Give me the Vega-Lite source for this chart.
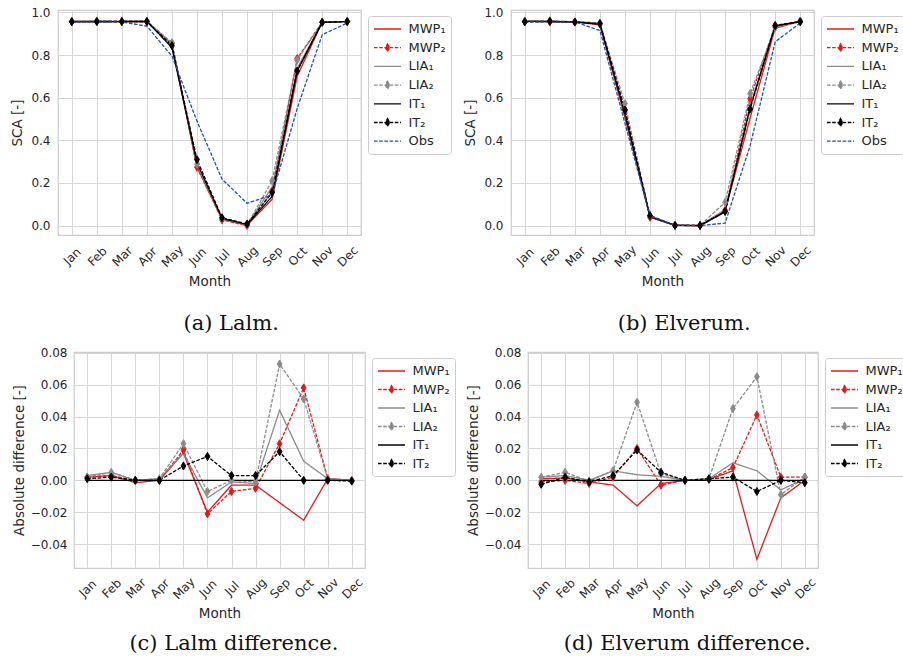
{
  "$schema": "https://vega.github.io/schema/vega-lite/v6.json",
  "background": "white",
  "padding": {"left": 10, "top": 5, "right": 0, "bottom": 0},
  "config": {
    "view": {"stroke": "#cccccc", "strokeWidth": 1.25},
    "axis": {
      "domain": false,
      "ticks": false,
      "tickSize": 0,
      "grid": true,
      "gridColor": "#d6d6d6",
      "gridWidth": 1,
      "labelFont": "DejaVu Sans",
      "labelFontSize": 12,
      "labelColor": "#262626",
      "titleFont": "DejaVu Sans",
      "titleFontSize": 13.5,
      "titleFontWeight": "normal",
      "titleColor": "#262626"
    },
    "legend": {
      "labelFont": "DejaVu Sans",
      "labelFontSize": 13,
      "labelColor": "#262626"
    }
  },
  "resolve": {"scale": {"color": "independent", "strokeDash": "independent", "fill": "independent", "stroke": "independent"}, "legend": {"color": "independent"}},
  "datasets": {
    "lalm": [
      {"m":"Jan","s":"MWP₁","v":0.957},{"m":"Feb","s":"MWP₁","v":0.958},{"m":"Mar","s":"MWP₁","v":0.956},{"m":"Apr","s":"MWP₁","v":0.957},{"m":"May","s":"MWP₁","v":0.852},{"m":"Jun","s":"MWP₁","v":0.275},{"m":"Jul","s":"MWP₁","v":0.031},{"m":"Aug","s":"MWP₁","v":0.002},{"m":"Sep","s":"MWP₁","v":0.123},{"m":"Oct","s":"MWP₁","v":0.700},{"m":"Nov","s":"MWP₁","v":0.954},{"m":"Dec","s":"MWP₁","v":0.957},
      {"m":"Jan","s":"MWP₂","v":0.957},{"m":"Feb","s":"MWP₂","v":0.958},{"m":"Mar","s":"MWP₂","v":0.957},{"m":"Apr","s":"MWP₂","v":0.957},{"m":"May","s":"MWP₂","v":0.854},{"m":"Jun","s":"MWP₂","v":0.274},{"m":"Jul","s":"MWP₂","v":0.027},{"m":"Aug","s":"MWP₂","v":0.000},{"m":"Sep","s":"MWP₂","v":0.160},{"m":"Oct","s":"MWP₂","v":0.783},{"m":"Nov","s":"MWP₂","v":0.954},{"m":"Dec","s":"MWP₂","v":0.957},
      {"m":"Jan","s":"LIA₁","v":0.958},{"m":"Feb","s":"LIA₁","v":0.960},{"m":"Mar","s":"LIA₁","v":0.957},{"m":"Apr","s":"LIA₁","v":0.958},{"m":"May","s":"LIA₁","v":0.852},{"m":"Jun","s":"LIA₁","v":0.284},{"m":"Jul","s":"LIA₁","v":0.033},{"m":"Aug","s":"LIA₁","v":0.003},{"m":"Sep","s":"LIA₁","v":0.181},{"m":"Oct","s":"LIA₁","v":0.737},{"m":"Nov","s":"LIA₁","v":0.954},{"m":"Dec","s":"LIA₁","v":0.957},
      {"m":"Jan","s":"LIA₂","v":0.957},{"m":"Feb","s":"LIA₂","v":0.960},{"m":"Mar","s":"LIA₂","v":0.957},{"m":"Apr","s":"LIA₂","v":0.958},{"m":"May","s":"LIA₂","v":0.858},{"m":"Jun","s":"LIA₂","v":0.288},{"m":"Jul","s":"LIA₂","v":0.034},{"m":"Aug","s":"LIA₂","v":0.004},{"m":"Sep","s":"LIA₂","v":0.210},{"m":"Oct","s":"LIA₂","v":0.776},{"m":"Nov","s":"LIA₂","v":0.954},{"m":"Dec","s":"LIA₂","v":0.957},
      {"m":"Jan","s":"IT₁","v":0.955},{"m":"Feb","s":"IT₁","v":0.955},{"m":"Mar","s":"IT₁","v":0.957},{"m":"Apr","s":"IT₁","v":0.957},{"m":"May","s":"IT₁","v":0.835},{"m":"Jun","s":"IT₁","v":0.295},{"m":"Jul","s":"IT₁","v":0.034},{"m":"Aug","s":"IT₁","v":0.005},{"m":"Sep","s":"IT₁","v":0.137},{"m":"Oct","s":"IT₁","v":0.725},{"m":"Nov","s":"IT₁","v":0.953},{"m":"Dec","s":"IT₁","v":0.957},
      {"m":"Jan","s":"IT₂","v":0.956},{"m":"Feb","s":"IT₂","v":0.957},{"m":"Mar","s":"IT₂","v":0.957},{"m":"Apr","s":"IT₂","v":0.957},{"m":"May","s":"IT₂","v":0.844},{"m":"Jun","s":"IT₂","v":0.310},{"m":"Jul","s":"IT₂","v":0.037},{"m":"Aug","s":"IT₂","v":0.008},{"m":"Sep","s":"IT₂","v":0.155},{"m":"Oct","s":"IT₂","v":0.725},{"m":"Nov","s":"IT₂","v":0.953},{"m":"Dec","s":"IT₂","v":0.957},
      {"m":"Jan","s":"Obs","v":0.955},{"m":"Feb","s":"Obs","v":0.955},{"m":"Mar","s":"Obs","v":0.955},{"m":"Apr","s":"Obs","v":0.935},{"m":"May","s":"Obs","v":0.795},{"m":"Jun","s":"Obs","v":0.490},{"m":"Jul","s":"Obs","v":0.218},{"m":"Aug","s":"Obs","v":0.105},{"m":"Sep","s":"Obs","v":0.143},{"m":"Oct","s":"Obs","v":0.548},{"m":"Nov","s":"Obs","v":0.895},{"m":"Dec","s":"Obs","v":0.950}
    ],
    "elverum": [
      {"m":"Jan","s":"MWP₁","v":0.959},{"m":"Feb","s":"MWP₁","v":0.9575},{"m":"Mar","s":"MWP₁","v":0.955},{"m":"Apr","s":"MWP₁","v":0.941},{"m":"May","s":"MWP₁","v":0.507},{"m":"Jun","s":"MWP₁","v":0.040},{"m":"Jul","s":"MWP₁","v":0.001},{"m":"Aug","s":"MWP₁","v":0.0005},{"m":"Sep","s":"MWP₁","v":0.070},{"m":"Oct","s":"MWP₁","v":0.5045},{"m":"Nov","s":"MWP₁","v":0.926},{"m":"Dec","s":"MWP₁","v":0.957},
      {"m":"Jan","s":"MWP₂","v":0.957},{"m":"Feb","s":"MWP₂","v":0.956},{"m":"Mar","s":"MWP₂","v":0.954},{"m":"Apr","s":"MWP₂","v":0.946},{"m":"May","s":"MWP₂","v":0.543},{"m":"Jun","s":"MWP₂","v":0.039},{"m":"Jul","s":"MWP₂","v":0.001},{"m":"Aug","s":"MWP₂","v":0.0005},{"m":"Sep","s":"MWP₂","v":0.072},{"m":"Oct","s":"MWP₂","v":0.595},{"m":"Nov","s":"MWP₂","v":0.939},{"m":"Dec","s":"MWP₂","v":0.959},
      {"m":"Jan","s":"LIA₁","v":0.960},{"m":"Feb","s":"LIA₁","v":0.959},{"m":"Mar","s":"LIA₁","v":0.956},{"m":"Apr","s":"LIA₁","v":0.950},{"m":"May","s":"LIA₁","v":0.5265},{"m":"Jun","s":"LIA₁","v":0.0445},{"m":"Jul","s":"LIA₁","v":0.001},{"m":"Aug","s":"LIA₁","v":0.001},{"m":"Sep","s":"LIA₁","v":0.075},{"m":"Oct","s":"LIA₁","v":0.560},{"m":"Nov","s":"LIA₁","v":0.931},{"m":"Dec","s":"LIA₁","v":0.958},
      {"m":"Jan","s":"LIA₂","v":0.960},{"m":"Feb","s":"LIA₂","v":0.961},{"m":"Mar","s":"LIA₂","v":0.9555},{"m":"Apr","s":"LIA₂","v":0.950},{"m":"May","s":"LIA₂","v":0.572},{"m":"Jun","s":"LIA₂","v":0.046},{"m":"Jul","s":"LIA₂","v":0.001},{"m":"Aug","s":"LIA₂","v":0.001},{"m":"Sep","s":"LIA₂","v":0.109},{"m":"Oct","s":"LIA₂","v":0.619},{"m":"Nov","s":"LIA₂","v":0.928},{"m":"Dec","s":"LIA₂","v":0.959},
      {"m":"Jan","s":"IT₁","v":0.958},{"m":"Feb","s":"IT₁","v":0.956},{"m":"Mar","s":"IT₁","v":0.956},{"m":"Apr","s":"IT₁","v":0.944},{"m":"May","s":"IT₁","v":0.523},{"m":"Jun","s":"IT₁","v":0.042},{"m":"Jul","s":"IT₁","v":0.001},{"m":"Aug","s":"IT₁","v":0.000},{"m":"Sep","s":"IT₁","v":0.064},{"m":"Oct","s":"IT₁","v":0.554},{"m":"Nov","s":"IT₁","v":0.937},{"m":"Dec","s":"IT₁","v":0.957},
      {"m":"Jan","s":"IT₂","v":0.9555},{"m":"Feb","s":"IT₂","v":0.958},{"m":"Mar","s":"IT₂","v":0.955},{"m":"Apr","s":"IT₂","v":0.947},{"m":"May","s":"IT₂","v":0.542},{"m":"Jun","s":"IT₂","v":0.047},{"m":"Jul","s":"IT₂","v":0.001},{"m":"Aug","s":"IT₂","v":0.001},{"m":"Sep","s":"IT₂","v":0.066},{"m":"Oct","s":"IT₂","v":0.547},{"m":"Nov","s":"IT₂","v":0.937},{"m":"Dec","s":"IT₂","v":0.9555},
      {"m":"Jan","s":"Obs","v":0.955},{"m":"Feb","s":"Obs","v":0.955},{"m":"Mar","s":"Obs","v":0.955},{"m":"Apr","s":"Obs","v":0.915},{"m":"May","s":"Obs","v":0.480},{"m":"Jun","s":"Obs","v":0.045},{"m":"Jul","s":"Obs","v":0.000},{"m":"Aug","s":"Obs","v":0.000},{"m":"Sep","s":"Obs","v":0.012},{"m":"Oct","s":"Obs","v":0.375},{"m":"Nov","s":"Obs","v":0.862},{"m":"Dec","s":"Obs","v":0.950}
    ],
    "lalmDiff": [
      {"m":"Jan","s":"MWP₁","v":0.002},{"m":"Feb","s":"MWP₁","v":0.003},{"m":"Mar","s":"MWP₁","v":-0.0015},{"m":"Apr","s":"MWP₁","v":0.0},{"m":"May","s":"MWP₁","v":0.017},{"m":"Jun","s":"MWP₁","v":-0.020},{"m":"Jul","s":"MWP₁","v":-0.003},{"m":"Aug","s":"MWP₁","v":-0.003},{"m":"Sep","s":"MWP₁","v":-0.014},{"m":"Oct","s":"MWP₁","v":-0.025},{"m":"Nov","s":"MWP₁","v":0.001},{"m":"Dec","s":"MWP₁","v":0.0},
      {"m":"Jan","s":"MWP₂","v":0.002},{"m":"Feb","s":"MWP₂","v":0.003},{"m":"Mar","s":"MWP₂","v":0.0},{"m":"Apr","s":"MWP₂","v":0.0},{"m":"May","s":"MWP₂","v":0.019},{"m":"Jun","s":"MWP₂","v":-0.021},{"m":"Jul","s":"MWP₂","v":-0.007},{"m":"Aug","s":"MWP₂","v":-0.005},{"m":"Sep","s":"MWP₂","v":0.023},{"m":"Oct","s":"MWP₂","v":0.058},{"m":"Nov","s":"MWP₂","v":0.001},{"m":"Dec","s":"MWP₂","v":0.0},
      {"m":"Jan","s":"LIA₁","v":0.003},{"m":"Feb","s":"LIA₁","v":0.005},{"m":"Mar","s":"LIA₁","v":0.0},{"m":"Apr","s":"LIA₁","v":0.001},{"m":"May","s":"LIA₁","v":0.017},{"m":"Jun","s":"LIA₁","v":-0.011},{"m":"Jul","s":"LIA₁","v":-0.001},{"m":"Aug","s":"LIA₁","v":-0.002},{"m":"Sep","s":"LIA₁","v":0.044},{"m":"Oct","s":"LIA₁","v":0.012},{"m":"Nov","s":"LIA₁","v":0.001},{"m":"Dec","s":"LIA₁","v":0.0},
      {"m":"Jan","s":"LIA₂","v":0.002},{"m":"Feb","s":"LIA₂","v":0.005},{"m":"Mar","s":"LIA₂","v":0.0},{"m":"Apr","s":"LIA₂","v":0.001},{"m":"May","s":"LIA₂","v":0.023},{"m":"Jun","s":"LIA₂","v":-0.007},{"m":"Jul","s":"LIA₂","v":0.0},{"m":"Aug","s":"LIA₂","v":-0.001},{"m":"Sep","s":"LIA₂","v":0.073},{"m":"Oct","s":"LIA₂","v":0.051},{"m":"Nov","s":"LIA₂","v":0.001},{"m":"Dec","s":"LIA₂","v":0.0},
      {"m":"Jan","s":"IT₁","v":0.0},{"m":"Feb","s":"IT₁","v":0.0},{"m":"Mar","s":"IT₁","v":0.0},{"m":"Apr","s":"IT₁","v":0.0},{"m":"May","s":"IT₁","v":0.0},{"m":"Jun","s":"IT₁","v":0.0},{"m":"Jul","s":"IT₁","v":0.0},{"m":"Aug","s":"IT₁","v":0.0},{"m":"Sep","s":"IT₁","v":0.0},{"m":"Oct","s":"IT₁","v":0.0},{"m":"Nov","s":"IT₁","v":0.0},{"m":"Dec","s":"IT₁","v":0.0},
      {"m":"Jan","s":"IT₂","v":0.001},{"m":"Feb","s":"IT₂","v":0.002},{"m":"Mar","s":"IT₂","v":0.0},{"m":"Apr","s":"IT₂","v":0.0},{"m":"May","s":"IT₂","v":0.009},{"m":"Jun","s":"IT₂","v":0.015},{"m":"Jul","s":"IT₂","v":0.003},{"m":"Aug","s":"IT₂","v":0.003},{"m":"Sep","s":"IT₂","v":0.018},{"m":"Oct","s":"IT₂","v":0.0},{"m":"Nov","s":"IT₂","v":0.0},{"m":"Dec","s":"IT₂","v":-0.0005}
    ],
    "elverumDiff": [
      {"m":"Jan","s":"MWP₁","v":0.001},{"m":"Feb","s":"MWP₁","v":0.0015},{"m":"Mar","s":"MWP₁","v":-0.001},{"m":"Apr","s":"MWP₁","v":-0.003},{"m":"May","s":"MWP₁","v":-0.016},{"m":"Jun","s":"MWP₁","v":-0.002},{"m":"Jul","s":"MWP₁","v":0.0},{"m":"Aug","s":"MWP₁","v":0.0005},{"m":"Sep","s":"MWP₁","v":0.006},{"m":"Oct","s":"MWP₁","v":-0.0495},{"m":"Nov","s":"MWP₁","v":-0.011},{"m":"Dec","s":"MWP₁","v":0.0},
      {"m":"Jan","s":"MWP₂","v":-0.001},{"m":"Feb","s":"MWP₂","v":0.0},{"m":"Mar","s":"MWP₂","v":-0.002},{"m":"Apr","s":"MWP₂","v":0.002},{"m":"May","s":"MWP₂","v":0.020},{"m":"Jun","s":"MWP₂","v":-0.003},{"m":"Jul","s":"MWP₂","v":0.0},{"m":"Aug","s":"MWP₂","v":0.0005},{"m":"Sep","s":"MWP₂","v":0.008},{"m":"Oct","s":"MWP₂","v":0.041},{"m":"Nov","s":"MWP₂","v":0.002},{"m":"Dec","s":"MWP₂","v":0.002},
      {"m":"Jan","s":"LIA₁","v":0.002},{"m":"Feb","s":"LIA₁","v":0.003},{"m":"Mar","s":"LIA₁","v":0.0},{"m":"Apr","s":"LIA₁","v":0.006},{"m":"May","s":"LIA₁","v":0.0035},{"m":"Jun","s":"LIA₁","v":0.0025},{"m":"Jul","s":"LIA₁","v":0.0},{"m":"Aug","s":"LIA₁","v":0.001},{"m":"Sep","s":"LIA₁","v":0.011},{"m":"Oct","s":"LIA₁","v":0.006},{"m":"Nov","s":"LIA₁","v":-0.006},{"m":"Dec","s":"LIA₁","v":0.001},
      {"m":"Jan","s":"LIA₂","v":0.002},{"m":"Feb","s":"LIA₂","v":0.005},{"m":"Mar","s":"LIA₂","v":-0.0005},{"m":"Apr","s":"LIA₂","v":0.006},{"m":"May","s":"LIA₂","v":0.049},{"m":"Jun","s":"LIA₂","v":0.004},{"m":"Jul","s":"LIA₂","v":0.0},{"m":"Aug","s":"LIA₂","v":0.001},{"m":"Sep","s":"LIA₂","v":0.045},{"m":"Oct","s":"LIA₂","v":0.065},{"m":"Nov","s":"LIA₂","v":-0.009},{"m":"Dec","s":"LIA₂","v":0.002},
      {"m":"Jan","s":"IT₁","v":0.0},{"m":"Feb","s":"IT₁","v":0.0},{"m":"Mar","s":"IT₁","v":0.0},{"m":"Apr","s":"IT₁","v":0.0},{"m":"May","s":"IT₁","v":0.0},{"m":"Jun","s":"IT₁","v":0.0},{"m":"Jul","s":"IT₁","v":0.0},{"m":"Aug","s":"IT₁","v":0.0},{"m":"Sep","s":"IT₁","v":0.0},{"m":"Oct","s":"IT₁","v":0.0},{"m":"Nov","s":"IT₁","v":0.0},{"m":"Dec","s":"IT₁","v":0.0},
      {"m":"Jan","s":"IT₂","v":-0.0025},{"m":"Feb","s":"IT₂","v":0.002},{"m":"Mar","s":"IT₂","v":-0.001},{"m":"Apr","s":"IT₂","v":0.003},{"m":"May","s":"IT₂","v":0.019},{"m":"Jun","s":"IT₂","v":0.005},{"m":"Jul","s":"IT₂","v":0.0},{"m":"Aug","s":"IT₂","v":0.001},{"m":"Sep","s":"IT₂","v":0.002},{"m":"Oct","s":"IT₂","v":-0.007},{"m":"Nov","s":"IT₂","v":0.0},{"m":"Dec","s":"IT₂","v":-0.0015}
    ]
  },
  "spacing": 11,
  "vconcat": [
    {
      "resolve": {"scale": {"color": "independent", "strokeDash": "independent", "fill": "independent", "stroke": "independent"}, "legend": {"color": "independent"}},
      "spacing": 150,
      "bounds": "flush",
      "hconcat": [
        {
          "width": 303, "height": 225,
          "data": {"name": "lalm"},
          "title": {"text": "(a) Lalm.", "orient": "bottom", "anchor": "middle", "frame": "bounds", "offset": 25, "font": "DejaVu Serif", "fontSize": 21, "fontWeight": "normal", "color": "#111111"},
          "encoding": {
            "x": {"field": "m", "type": "ordinal", "sort": ["Jan","Feb","Mar","Apr","May","Jun","Jul","Aug","Sep","Oct","Nov","Dec"], "scale": {"type": "point", "padding": 0.55}, "axis": {"title": "Month", "labelAngle": -45, "labelAlign": "center", "labelBaseline": "middle", "labelPadding": 21, "titlePadding": 5, "grid": true}},
            "y": {"field": "v", "type": "quantitative", "scale": {"domain": [-0.044, 1.011], "nice": false, "zero": false}, "axis": {"title": "SCA [-]", "values": [0, 0.2, 0.4, 0.6, 0.8, 1.0], "format": ".1f", "labelPadding": 8, "titlePadding": 6}}
          },
          "layer": [
            {
              "mark": {"type": "line", "strokeWidth": 1.3},
              "encoding": {
                "color": {"field": "s", "type": "nominal",
                  "scale": {"domain": ["MWP₁","MWP₂","LIA₁","LIA₂","IT₁","IT₂","Obs"], "range": ["#e31a1c","#e31a1c","#8a8a8a","#8a8a8a","#000000","#000000","#1f4fb4"]},
                  "legend": {"title": null, "orient": "none", "legendX": 310, "legendY": 6, "padding": 5, "rowPadding": 3.7, "symbolSize": 196, "symbolOffset": 6.5, "labelOffset": 13, "strokeColor": "#cccccc", "fillColor": "white", "cornerRadius": 3,
                    "encode": {"symbols": {"update": {
                      "shape": {"signal": "indexof(['MWP₂','LIA₂','IT₂'], datum.value) >= 0 ? 'M-1.93,0H1.93M0,-0.55L0.32,0L0,0.55L-0.32,0Z' : 'M-1.93,0H1.93'"},
                      "fill": {"signal": "datum.value === 'MWP₂' ? '#e31a1c' : datum.value === 'LIA₂' ? '#8a8a8a' : datum.value === 'IT₂' ? '#000000' : 'transparent'"},
                      "strokeDash": {"signal": "indexof(['MWP₂','LIA₂','IT₂','Obs'], datum.value) >= 0 ? [3.6, 1.6] : [1, 0]"},
                      "size": {"value": 196},
                      "strokeWidth": {"value": 1.3}
                    }}}
                  }},
                "strokeDash": {"field": "s", "type": "nominal",
                  "scale": {"domain": ["MWP₁","MWP₂","LIA₁","LIA₂","IT₁","IT₂","Obs"], "range": [[1,0],[3.6,1.6],[1,0],[3.6,1.6],[1,0],[3.6,1.6],[3.6,1.6]]},
                  "legend": null}
              }
            },
            {
              "transform": [{"filter": {"field": "s", "oneOf": ["MWP₂","LIA₂","IT₂"]}}],
              "mark": {"type": "point", "shape": "M0,-1L0.6,0L0,1L-0.6,0Z", "size": 64, "filled": true, "strokeWidth": 1, "opacity": 1},
              "encoding": {
                "fill": {"field": "s", "type": "nominal", "scale": {"domain": ["MWP₂","LIA₂","IT₂"], "range": ["#e31a1c","#8a8a8a","#000000"]}, "legend": null},
                "stroke": {"field": "s", "type": "nominal", "scale": {"domain": ["MWP₂","LIA₂","IT₂"], "range": ["#e31a1c","#8a8a8a","#000000"]}, "legend": null}
              }
            }
          ]
        },
        {
          "width": 303, "height": 225,
          "data": {"name": "elverum"},
          "title": {"text": "(b) Elverum.", "orient": "bottom", "anchor": "middle", "frame": "bounds", "offset": 25, "font": "DejaVu Serif", "fontSize": 21, "fontWeight": "normal", "color": "#111111"},
          "encoding": {
            "x": {"field": "m", "type": "ordinal", "sort": ["Jan","Feb","Mar","Apr","May","Jun","Jul","Aug","Sep","Oct","Nov","Dec"], "scale": {"type": "point", "padding": 0.55}, "axis": {"title": "Month", "labelAngle": -45, "labelAlign": "center", "labelBaseline": "middle", "labelPadding": 21, "titlePadding": 5, "grid": true}},
            "y": {"field": "v", "type": "quantitative", "scale": {"domain": [-0.044, 1.011], "nice": false, "zero": false}, "axis": {"title": "SCA [-]", "values": [0, 0.2, 0.4, 0.6, 0.8, 1.0], "format": ".1f", "labelPadding": 8, "titlePadding": 6}}
          },
          "layer": [
            {
              "mark": {"type": "line", "strokeWidth": 1.3},
              "encoding": {
                "color": {"field": "s", "type": "nominal",
                  "scale": {"domain": ["MWP₁","MWP₂","LIA₁","LIA₂","IT₁","IT₂","Obs"], "range": ["#e31a1c","#e31a1c","#8a8a8a","#8a8a8a","#000000","#000000","#1f4fb4"]},
                  "legend": {"title": null, "orient": "none", "legendX": 310, "legendY": 6, "padding": 5, "rowPadding": 3.7, "symbolSize": 196, "symbolOffset": 6.5, "labelOffset": 13, "strokeColor": "#cccccc", "fillColor": "white", "cornerRadius": 3,
                    "encode": {"symbols": {"update": {
                      "shape": {"signal": "indexof(['MWP₂','LIA₂','IT₂'], datum.value) >= 0 ? 'M-1.93,0H1.93M0,-0.55L0.32,0L0,0.55L-0.32,0Z' : 'M-1.93,0H1.93'"},
                      "fill": {"signal": "datum.value === 'MWP₂' ? '#e31a1c' : datum.value === 'LIA₂' ? '#8a8a8a' : datum.value === 'IT₂' ? '#000000' : 'transparent'"},
                      "strokeDash": {"signal": "indexof(['MWP₂','LIA₂','IT₂','Obs'], datum.value) >= 0 ? [3.6, 1.6] : [1, 0]"},
                      "size": {"value": 196},
                      "strokeWidth": {"value": 1.3}
                    }}}
                  }},
                "strokeDash": {"field": "s", "type": "nominal",
                  "scale": {"domain": ["MWP₁","MWP₂","LIA₁","LIA₂","IT₁","IT₂","Obs"], "range": [[1,0],[3.6,1.6],[1,0],[3.6,1.6],[1,0],[3.6,1.6],[3.6,1.6]]},
                  "legend": null}
              }
            },
            {
              "transform": [{"filter": {"field": "s", "oneOf": ["MWP₂","LIA₂","IT₂"]}}],
              "mark": {"type": "point", "shape": "M0,-1L0.6,0L0,1L-0.6,0Z", "size": 64, "filled": true, "strokeWidth": 1, "opacity": 1},
              "encoding": {
                "fill": {"field": "s", "type": "nominal", "scale": {"domain": ["MWP₂","LIA₂","IT₂"], "range": ["#e31a1c","#8a8a8a","#000000"]}, "legend": null},
                "stroke": {"field": "s", "type": "nominal", "scale": {"domain": ["MWP₂","LIA₂","IT₂"], "range": ["#e31a1c","#8a8a8a","#000000"]}, "legend": null}
              }
            }
          ]
        }
      ]
    },
    {
      "resolve": {"scale": {"color": "independent", "strokeDash": "independent", "fill": "independent", "stroke": "independent"}, "legend": {"color": "independent"}},
      "spacing": 0,
      "bounds": "flush",
      "hconcat": [
        {
          "width": 16, "height": 1,
          "view": {"stroke": null},
          "data": {"values": []},
          "mark": "point"
        },
        {
          "resolve": {"scale": {"color": "independent", "strokeDash": "independent", "fill": "independent", "stroke": "independent"}, "legend": {"color": "independent"}},
          "spacing": 163,
          "bounds": "flush",
          "hconcat": [
            {
              "width": 291, "height": 216,
              "data": {"name": "lalmDiff"},
              "title": {"text": "(c) Lalm difference.", "orient": "bottom", "anchor": "middle", "frame": "bounds", "offset": 13, "font": "DejaVu Serif", "fontSize": 21, "fontWeight": "normal", "color": "#111111"},
              "encoding": {
                "x": {"field": "m", "type": "ordinal", "sort": ["Jan","Feb","Mar","Apr","May","Jun","Jul","Aug","Sep","Oct","Nov","Dec"], "scale": {"type": "point", "padding": 0.55}, "axis": {"title": "Month", "labelAngle": -45, "labelAlign": "center", "labelBaseline": "middle", "labelPadding": 20, "titlePadding": 5, "grid": true}},
                "y": {"field": "v", "type": "quantitative", "scale": {"domain": [-0.055, 0.0805], "nice": false, "zero": false}, "axis": {"title": "Absolute difference [-]", "values": [-0.04, -0.02, 0, 0.02, 0.04, 0.06, 0.08], "format": ".2f", "labelPadding": 7, "titlePadding": 4}}
              },
              "layer": [
                {
                  "mark": {"type": "line", "strokeWidth": 1.3},
                  "encoding": {
                    "color": {"field": "s", "type": "nominal",
                      "scale": {"domain": ["MWP₁","MWP₂","LIA₁","LIA₂","IT₁","IT₂"], "range": ["#e31a1c","#e31a1c","#8a8a8a","#8a8a8a","#000000","#000000"]},
                      "legend": {"title": null, "orient": "none", "legendX": 298, "legendY": 6, "padding": 5, "rowPadding": 3.5, "symbolSize": 196, "symbolOffset": 6.5, "labelOffset": 13, "strokeColor": "#cccccc", "fillColor": "white", "cornerRadius": 3,
                        "encode": {"symbols": {"update": {
                          "shape": {"signal": "indexof(['MWP₂','LIA₂','IT₂'], datum.value) >= 0 ? 'M-1.93,0H1.93M0,-0.55L0.32,0L0,0.55L-0.32,0Z' : 'M-1.93,0H1.93'"},
                          "fill": {"signal": "datum.value === 'MWP₂' ? '#e31a1c' : datum.value === 'LIA₂' ? '#8a8a8a' : datum.value === 'IT₂' ? '#000000' : 'transparent'"},
                          "strokeDash": {"signal": "indexof(['MWP₂','LIA₂','IT₂'], datum.value) >= 0 ? [3.6, 1.6] : [1, 0]"},
                          "size": {"value": 196},
                          "strokeWidth": {"value": 1.3}
                        }}}
                      }},
                    "strokeDash": {"field": "s", "type": "nominal",
                      "scale": {"domain": ["MWP₁","MWP₂","LIA₁","LIA₂","IT₁","IT₂"], "range": [[1,0],[3.6,1.6],[1,0],[3.6,1.6],[1,0],[3.6,1.6]]},
                      "legend": null}
                  }
                },
                {
                  "transform": [{"filter": {"field": "s", "oneOf": ["MWP₂","LIA₂","IT₂"]}}],
                  "mark": {"type": "point", "shape": "M0,-1L0.6,0L0,1L-0.6,0Z", "size": 64, "filled": true, "strokeWidth": 1, "opacity": 1},
                  "encoding": {
                    "fill": {"field": "s", "type": "nominal", "scale": {"domain": ["MWP₂","LIA₂","IT₂"], "range": ["#e31a1c","#8a8a8a","#000000"]}, "legend": null},
                    "stroke": {"field": "s", "type": "nominal", "scale": {"domain": ["MWP₂","LIA₂","IT₂"], "range": ["#e31a1c","#8a8a8a","#000000"]}, "legend": null}
                  }
                }
              ]
            },
            {
              "width": 290, "height": 216,
              "data": {"name": "elverumDiff"},
              "title": {"text": "(d) Elverum difference.", "orient": "bottom", "anchor": "middle", "frame": "bounds", "offset": 13, "font": "DejaVu Serif", "fontSize": 21, "fontWeight": "normal", "color": "#111111"},
              "encoding": {
                "x": {"field": "m", "type": "ordinal", "sort": ["Jan","Feb","Mar","Apr","May","Jun","Jul","Aug","Sep","Oct","Nov","Dec"], "scale": {"type": "point", "padding": 0.55}, "axis": {"title": "Month", "labelAngle": -45, "labelAlign": "center", "labelBaseline": "middle", "labelPadding": 20, "titlePadding": 5, "grid": true}},
                "y": {"field": "v", "type": "quantitative", "scale": {"domain": [-0.055, 0.0805], "nice": false, "zero": false}, "axis": {"title": "Absolute difference [-]", "values": [-0.04, -0.02, 0, 0.02, 0.04, 0.06, 0.08], "format": ".2f", "labelPadding": 7, "titlePadding": 4}}
              },
              "layer": [
                {
                  "mark": {"type": "line", "strokeWidth": 1.3},
                  "encoding": {
                    "color": {"field": "s", "type": "nominal",
                      "scale": {"domain": ["MWP₁","MWP₂","LIA₁","LIA₂","IT₁","IT₂"], "range": ["#e31a1c","#e31a1c","#8a8a8a","#8a8a8a","#000000","#000000"]},
                      "legend": {"title": null, "orient": "none", "legendX": 297, "legendY": 6, "padding": 5, "rowPadding": 3.5, "symbolSize": 196, "symbolOffset": 6.5, "labelOffset": 13, "strokeColor": "#cccccc", "fillColor": "white", "cornerRadius": 3,
                        "encode": {"symbols": {"update": {
                          "shape": {"signal": "indexof(['MWP₂','LIA₂','IT₂'], datum.value) >= 0 ? 'M-1.93,0H1.93M0,-0.55L0.32,0L0,0.55L-0.32,0Z' : 'M-1.93,0H1.93'"},
                          "fill": {"signal": "datum.value === 'MWP₂' ? '#e31a1c' : datum.value === 'LIA₂' ? '#8a8a8a' : datum.value === 'IT₂' ? '#000000' : 'transparent'"},
                          "strokeDash": {"signal": "indexof(['MWP₂','LIA₂','IT₂'], datum.value) >= 0 ? [3.6, 1.6] : [1, 0]"},
                          "size": {"value": 196},
                          "strokeWidth": {"value": 1.3}
                        }}}
                      }},
                    "strokeDash": {"field": "s", "type": "nominal",
                      "scale": {"domain": ["MWP₁","MWP₂","LIA₁","LIA₂","IT₁","IT₂"], "range": [[1,0],[3.6,1.6],[1,0],[3.6,1.6],[1,0],[3.6,1.6]]},
                      "legend": null}
                  }
                },
                {
                  "transform": [{"filter": {"field": "s", "oneOf": ["MWP₂","LIA₂","IT₂"]}}],
                  "mark": {"type": "point", "shape": "M0,-1L0.6,0L0,1L-0.6,0Z", "size": 64, "filled": true, "strokeWidth": 1, "opacity": 1},
                  "encoding": {
                    "fill": {"field": "s", "type": "nominal", "scale": {"domain": ["MWP₂","LIA₂","IT₂"], "range": ["#e31a1c","#8a8a8a","#000000"]}, "legend": null},
                    "stroke": {"field": "s", "type": "nominal", "scale": {"domain": ["MWP₂","LIA₂","IT₂"], "range": ["#e31a1c","#8a8a8a","#000000"]}, "legend": null}
                  }
                }
              ]
            }
          ]
        }
      ]
    }
  ]
}
